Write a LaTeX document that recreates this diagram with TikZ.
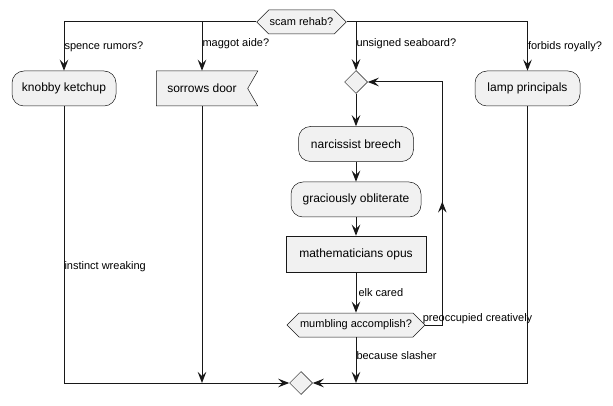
\documentclass[tikz,border=0pt]{standalone}
\usepackage{fontspec}
\setmainfont{Liberation Sans}
\usetikzlibrary{arrows.meta,shapes.geometric,shapes.symbols,decorations.markings}
\definecolor{actfill}{HTML}{F1F1F1}
\definecolor{actline}{HTML}{181818}
\begin{document}
\begin{tikzpicture}[x=1pt,y=-1pt,
    act/.style={draw=actline,fill=actfill,line width=0.5pt,rounded corners=12pt,minimum height=35pt,font=\fontsize{12}{14}\selectfont},
    box/.style={draw=actline,fill=actfill,line width=0.5pt,minimum height=36pt,font=\fontsize{12}{14}\selectfont},
    flag/.style={signal,signal from=east,signal to=nowhere,signal pointer angle=120,draw=actline,fill=actfill,line width=0.5pt,minimum height=35pt,inner xsep=11pt,font=\fontsize{12}{14}\selectfont},
    dec/.style={signal,signal to=west and east,signal pointer angle=90,draw=actline,fill=actfill,line width=0.5pt,minimum height=24pt,inner xsep=1pt,font=\fontsize{11}{13}\selectfont},
    merge/.style={diamond,draw=actline,fill=actfill,line width=0.5pt,minimum size=23pt,inner sep=0pt},
    lbl/.style={font=\fontsize{11}{13}\selectfont,inner sep=0pt},
    arr/.style={draw=actline,line width=1pt,-{Stealth[length=11pt,width=8.5pt,inset=4pt]}}]
    \useasboundingbox (0,0) rectangle (613,406);
    \node[dec] (top) at (301.5,22) {scam rehab?};
    \node[act,minimum width=104pt] (ketchup) at (64,88.5) {knobby ketchup};
    \node[flag] (door) at (202,88.5) {sorrows door};
    \node[merge] (m1) at (356,82) {};
    \node[act,minimum width=105pt] (lamp) at (527.5,88.5) {lamp principals};
    \node[act,minimum width=115pt] (narc) at (356,144) {narcissist breech};
    \node[act,minimum width=130pt] (gracious) at (356,199.5) {graciously obliterate};
    \node[box,minimum width=140pt] (opus) at (356,254) {mathematicians opus};
    \node[dec] (mumb) at (356,325) {mumbling accomplish?};
    \node[merge] (m2) at (301,383) {};
    \draw[arr] (top.west) -| (ketchup.north) node[lbl,pos=0.75,right]{spence rumors?};
    \draw[arr] (top.west) -| (door.north) node[lbl,pos=0.72,right]{maggot aide?};
    \draw[arr] (top.east) -| (m1.north) node[lbl,pos=0.72,right]{unsigned seaboard?};
    \draw[arr] (top.east) -| (lamp.north) node[lbl,pos=0.75,right]{forbids royally?};
    \draw[arr] (m1.south) -- (narc.north);
    \draw[arr] (narc.south) -- (gracious.north);
    \draw[arr] (gracious.south) -- (opus.north);
    \draw[arr] (opus.south) -- (mumb.north) node[lbl,midway,right,xshift=2pt]{elk cared};
    \draw[arr,postaction={decorate},decoration={markings,mark=at position 0.42 with {\arrow{Stealth[length=11pt,width=8.5pt,inset=4pt]}}}]
        (mumb.east) node[lbl,anchor=south west,xshift=-3pt,yshift=1pt]{preoccupied creatively} -- ++(17,0) |- (m1.east);
    \draw[arr] (ketchup.south) |- (m2.west) node[lbl,pos=0.29,right]{instinct wreaking};
    \draw[arr] (door.south) -- (door.south |- m2);
    \draw[arr] (mumb.south) -- (mumb.south |- m2) node[lbl,pos=0.4,right]{because slasher};
    \draw[arr] (lamp.south) |- (m2.east);
\end{tikzpicture}
\end{document}
